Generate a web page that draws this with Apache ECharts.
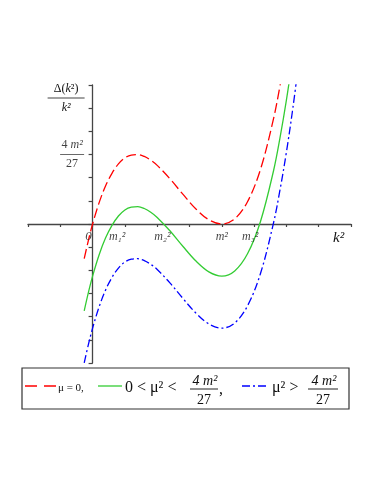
<!DOCTYPE html>
<html>
<head>
<meta charset="utf-8">
<script src="https://cdn.jsdelivr.net/npm/echarts@6/dist/echarts.min.js"></script>
<style>
  html, body { margin: 0; padding: 0; background: #fff; }
  #chart { width: 382px; height: 494px; }
</style>
</head>
<body>
<div id="chart"></div>
<script>
// k^2 in units of m^2
const kSq = [-0.065, -0.03, 0, 0.05, 0.1, 0.15, 0.2, 0.25, 0.3, 0.35, 0.4, 0.45, 0.5,
  0.6, 0.7, 0.8, 0.9, 1.0, 1.1, 1.2, 1.3, 1.4, 1.45, 1.5, 1.55, 1.6];
// Delta(k^2)/k^2 for the three cases
const muZero = [-0.074, -0.032, 0, 0.045, 0.081, 0.108, 0.128, 0.141, 0.147, 0.148, 0.144, 0.136, 0.125,
  0.096, 0.063, 0.032, 0.009, 0, 0.011, 0.048, 0.117, 0.224, 0.294, 0.375, 0.469, 0.576];
const muSmall = [-0.185, -0.143, -0.111, -0.066, -0.030, -0.003, 0.017, 0.030, 0.036, 0.037, 0.033, 0.025, 0.014,
  -0.015, -0.048, -0.079, -0.102, -0.111, -0.100, -0.063, 0.006, 0.113, 0.183, 0.264, 0.358, 0.465];
const muLarge = [-0.296, -0.254, -0.222, -0.177, -0.141, -0.114, -0.094, -0.081, -0.075, -0.074, -0.078, -0.086, -0.097,
  -0.126, -0.159, -0.190, -0.213, -0.222, -0.211, -0.174, -0.105, 0.002, 0.072, 0.153, 0.247, 0.354];

// labels on the k^2 axis
const xLabelVals = [0, 0.19, 0.54, 1, 1.22];
const xLabelText = ['0', 'm₁²', 'm₂²', 'm²', 'm₃²'];
const peakVal = 4 / 27;

const xTick = 0.25;
const yTick = 4 / 81;

const serif = '"Liberation Serif", "DejaVu Serif", serif';
const axisColor = '#454545';

// a stacked fraction as graphic elements (legend only)
function fraction(cx, yBar, w) {
  return [
    { type: 'text', x: cx + 1, y: yBar - 8, style: { text: '4 m²', font: 'italic 14px ' + serif, fill: '#111', align: 'center', verticalAlign: 'middle' } },
    { type: 'line', shape: { x1: cx - w / 2, y1: yBar, x2: cx + w / 2, y2: yBar }, style: { stroke: '#222', lineWidth: 1 } },
    { type: 'text', x: cx, y: yBar + 11, style: { text: '27', font: '14px ' + serif, fill: '#111', align: 'center', verticalAlign: 'middle' } }
  ];
}

const legendY = 386;
const legendParts = [
  { type: 'rect', shape: { x: 22, y: 368, width: 327, height: 41 }, style: { fill: '#fff', stroke: '#333', lineWidth: 1.2 } },
  { type: 'line', shape: { x1: 25, y1: legendY, x2: 56, y2: legendY }, style: { stroke: '#ff0000', lineWidth: 1.3, lineDash: [12, 7] } },
  { type: 'text', x: 58, y: legendY + 2, style: { text: 'μ = 0,', font: '11px ' + serif, fill: '#111', verticalAlign: 'middle' } },
  { type: 'line', shape: { x1: 98, y1: legendY, x2: 122, y2: legendY }, style: { stroke: '#33cc33', lineWidth: 1.3 } },
  { type: 'text', x: 125, y: legendY + 2, style: { text: '0 < μ² <', font: '16px ' + serif, fill: '#111', verticalAlign: 'middle' } },
  ...fraction(204, 389, 28),
  { type: 'text', x: 219, y: legendY + 4, style: { text: ',', font: '16px ' + serif, fill: '#111', verticalAlign: 'middle' } },
  { type: 'line', shape: { x1: 242, y1: legendY, x2: 266, y2: legendY }, style: { stroke: '#0000ff', lineWidth: 1.3, lineDash: [8, 3, 2, 3] } },
  { type: 'text', x: 272, y: legendY + 2, style: { text: 'μ² >', font: '16px ' + serif, fill: '#111', verticalAlign: 'middle' } },
  ...fraction(323, 389, 30)
];

const fracRich = {
  n: { fontFamily: serif, fontSize: 12, fontStyle: 'italic', color: '#111', align: 'center', lineHeight: 15 },
  bar: { width: 24, height: 1, lineHeight: 4, backgroundColor: '#444', align: 'center' },
  d: { fontFamily: serif, fontSize: 12, color: '#111', align: 'center', lineHeight: 15 },
  di: { fontFamily: serif, fontSize: 12, fontStyle: 'italic', color: '#111', align: 'center', lineHeight: 15 }
};

const chart = echarts.init(document.getElementById('chart'));

function curve(name, vals, color, type) {
  return {
    name: name,
    type: 'line',
    data: kSq.map((k, i) => [k, vals[i]]),
    showSymbol: false,
    smooth: 0.35,
    clip: true,
    lineStyle: { color: color, width: 1.3, type: type },
    z: 3
  };
}

// axis labels placed in data coordinates so they sit beside the crossing axes
const xLabelSeries = {
  type: 'scatter',
  symbolSize: 1,
  itemStyle: { color: 'rgba(0,0,0,0)' },
  silent: true,
  z: 4,
  data: xLabelVals.map((v, i) => ({
    value: [v, 0],
    label: {
      show: true,
      position: 'bottom',
      distance: 6,
      offset: i === 0 ? [-4, 0] : [0, 0],
      formatter: xLabelText[i],
      fontFamily: serif,
      fontSize: i === 0 ? 13 : 12,
      fontStyle: 'italic',
      color: '#111'
    }
  }))
};

const yLabelSeries = {
  type: 'scatter',
  symbolSize: 1,
  itemStyle: { color: 'rgba(0,0,0,0)' },
  silent: true,
  z: 4,
  data: [{
    value: [0, peakVal],
    label: {
      show: true,
      position: 'left',
      distance: 8,
      formatter: '{d|4 }{n|m²}\n{bar| }\n{d|27}',
      rich: fracRich
    }
  }]
};

chart.setOption({
  animation: false,
  backgroundColor: '#fff',
  grid: { left: 28, right: 31, top: 85, bottom: 131, containLabel: false },
  xAxis: {
    type: 'value',
    min: -2 * xTick,
    max: 8 * xTick,
    interval: xTick,
    name: 'k²',
    nameLocation: 'end',
    nameGap: -18,
    nameTextStyle: { fontFamily: serif, fontSize: 15, fontStyle: 'italic', color: '#111', align: 'left', verticalAlign: 'top', padding: [7, 0, 0, 0] },
    axisLine: { onZero: true, lineStyle: { color: axisColor, width: 1.3 } },
    axisTick: { show: true, length: 3, lineStyle: { color: axisColor, width: 1.2 } },
    splitLine: { show: false },
    axisLabel: { show: false }
  },
  yAxis: {
    type: 'value',
    min: -6 * yTick,
    max: 6 * yTick,
    interval: yTick,
    name: '{n|Δ(}{di|k}{n|²)}\n{bar| }\n{di|k²}',
    nameLocation: 'end',
    nameGap: -13,
    nameTextStyle: {
      align: 'right',
      verticalAlign: 'middle',
      padding: [0, 8, 0, 0],
      rich: Object.assign({}, fracRich, {
        n: Object.assign({}, fracRich.n, { fontStyle: 'normal' }),
        bar: Object.assign({}, fracRich.bar, { width: 37 })
      })
    },
    axisLine: { onZero: true, lineStyle: { color: axisColor, width: 1.3 } },
    axisTick: { show: true, length: 4, lineStyle: { color: axisColor, width: 1.2 } },
    splitLine: { show: false },
    axisLabel: { show: false }
  },
  series: [
    curve('μ = 0', muZero, '#ff0000', [10, 4]),
    curve('0 < μ² < 4m²/27', muSmall, '#33cc33', 'solid'),
    curve('μ² > 4m²/27', muLarge, '#0000ff', [8, 3, 2, 3]),
    xLabelSeries,
    yLabelSeries
  ],
  graphic: legendParts
});
</script>
</body>
</html>
